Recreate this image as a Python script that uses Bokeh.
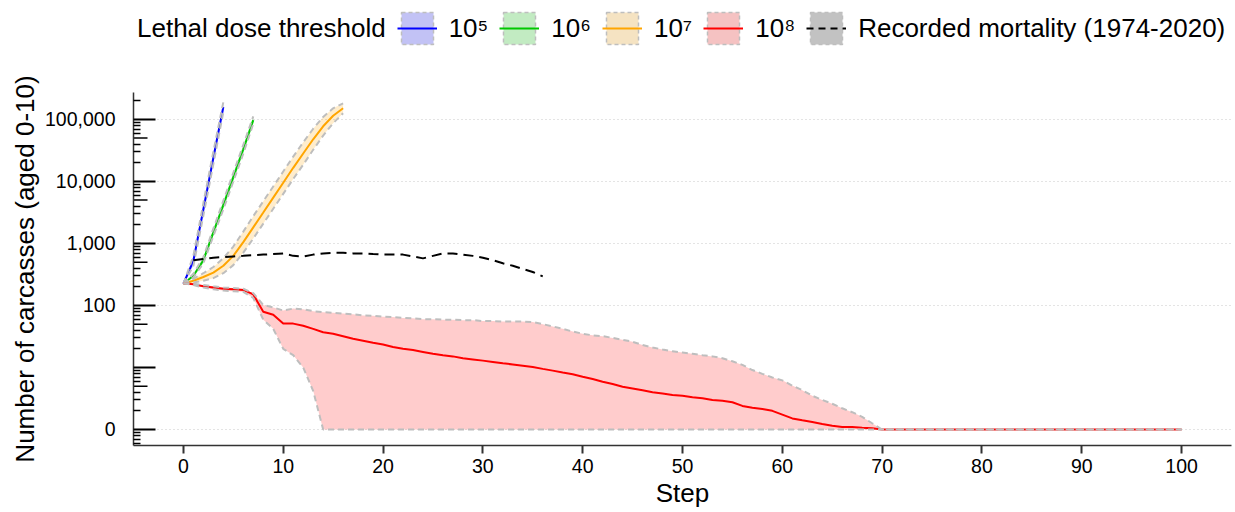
from bokeh.plotting import figure
from bokeh.layouts import column
from bokeh.models import Range1d, FixedTicker, Legend, LegendItem, ColumnDataSource
from bokeh.embed import file_html
from bokeh.resources import INLINE

FONT = "Liberation Sans"

# ---- simulated carcasses (aged 0-10) per step: median and 95% interval ----
# lethal dose threshold 10^5
steps_1e5 = [0, 1, 2, 3, 4]
med_1e5 = [223, 524, 3548, 23990, 158500]
lo_1e5 = [223, 436, 2818, 19055, 131864]
hi_1e5 = [223, 630, 4467, 30204, 190517]

# lethal dose threshold 10^6
steps_1e6 = [0, 1, 2, 3, 4, 5, 6, 7]
med_1e6 = [223, 301, 536, 1510, 4170, 11750, 33100, 97700]
lo_1e6 = [223, 281, 478, 1316, 3550, 10001, 28171, 85105]
hi_1e6 = [223, 323, 602, 1734, 4901, 13807, 38894, 112160]

# lethal dose threshold 10^7
steps_1e7 = [0, 1, 2, 3, 4, 5, 6, 7, 8, 9, 10, 11, 12, 13, 14, 15, 16]
med_1e7 = [223, 250, 287, 338, 436, 630, 1050, 1820, 3160, 5490, 9550,
           16600, 28200, 47900, 77600, 114800, 151400]
lo_1e7 = [223, 233, 250, 275, 331, 446, 710, 1202, 2087, 3626, 6308,
          10964, 18626, 32386, 54918, 87101, 125957]
hi_1e7 = [223, 268, 330, 416, 575, 891, 1553, 2756, 4785, 8312, 14459,
          25133, 42695, 70845, 109649, 151307, 181983]

# lethal dose threshold 10^8
steps_1e8 = list(range(0, 101))
med_1e8 = [228, 218, 203, 194, 185, 181, 177, 150, 78, 70,
           50, 50, 46, 41, 36, 34, 31, 28, 26, 24,
           22.4, 20.4, 19.0, 18.1, 16.8, 15.6, 14.8, 14.1, 13.1, 12.5,
           11.9, 11.3, 10.7, 10.2, 9.7, 9.2, 8.5, 7.9, 7.3, 6.8,
           6.1, 5.5, 4.9, 4.4, 3.9, 3.6, 3.3, 3.0, 2.8, 2.6,
           2.5, 2.3, 2.2, 2.0, 1.9, 1.75, 1.4, 1.24, 1.14, 1.0,
           0.74, 0.51, 0.41, 0.32, 0.23, 0.15, 0.10, 0.10, 0.07, 0.05,
           0, 0, 0, 0, 0, 0, 0, 0, 0, 0,
           0, 0, 0, 0, 0, 0, 0, 0, 0, 0,
           0, 0, 0, 0, 0, 0, 0, 0, 0, 0,
           0]
lo_1e8 = [228, 213, 194, 181, 173, 169, 165, 131, 58, 41,
          19, 14.8, 9, 3.2, 0, 0, 0, 0, 0, 0,
          0, 0, 0, 0, 0, 0, 0, 0, 0, 0,
          0, 0, 0, 0, 0, 0, 0, 0, 0, 0,
          0, 0, 0, 0, 0, 0, 0, 0, 0, 0,
          0, 0, 0, 0, 0, 0, 0, 0, 0, 0,
          0, 0, 0, 0, 0, 0, 0, 0, 0, 0,
          0, 0, 0, 0, 0, 0, 0, 0, 0, 0,
          0, 0, 0, 0, 0, 0, 0, 0, 0, 0,
          0, 0, 0, 0, 0, 0, 0, 0, 0, 0,
          0]
hi_1e8 = [228, 223, 213, 203, 194, 190, 185, 157, 101, 92,
          82, 88, 86, 80, 77, 75, 73, 71, 68, 67,
          65, 64, 62, 61, 59, 59, 58, 58, 57, 57,
          55, 55, 54, 54, 54, 53, 49, 45, 41, 37,
          34, 32, 31, 29, 27, 25, 22, 20, 18.5, 17.2,
          16.4, 15.6, 14.8, 14.1, 13.1, 11.6, 10, 8.1, 6.9, 5.9,
          5.2, 4.1, 3.3, 2.5, 2.0, 1.6, 1.2, 0.9, 0.6, 0.26,
          0, 0, 0, 0, 0, 0, 0, 0, 0, 0,
          0, 0, 0, 0, 0, 0, 0, 0, 0, 0,
          0, 0, 0, 0, 0, 0, 0, 0, 0, 0,
          0]

# recorded mortality 1974-2020
steps_rec = list(range(1, 37))
recorded = [536, 561, 588, 602, 616, 630, 645, 660, 675, 691,
            630, 616, 660, 691, 707, 707, 691, 691, 675, 660,
            660, 660, 616, 574, 630, 691, 691, 660, 630, 588,
            536, 478, 436, 388, 346, 294]

legend_title = "Lethal dose threshold"
threshold_labels = ["10⁵", "10⁶", "10⁷", "10⁸"]
recorded_label = "Recorded mortality (1974-2020)"
line_colors = ["#0000FF", "#00C800", "#FFA500", "#FF0000"]
key_fills = ["#C2C2F5", "#C2EBC2", "#F5E3C2", "#F5C2C2"]

x_ticks = [0, 10, 20, 30, 40, 50, 60, 70, 80, 90, 100]
y_labelled = {1: "0", 10: "", 100: "100", 1000: "1,000", 10000: "10,000", 100000: "100,000"}

XSTART, XEND = -5, 105
YSTART, YEND = 0.552, 272000
BAND_EDGE = "#BEBEBE"
KEY_DASH = "4 3"
STRIP_H = 50
TOTAL_W, TOTAL_H = 1235, 512


def shift(values):
    # counts are shown on a log(1 + n) scale, so zero sits at the bottom tick
    return [v + 1 for v in values]


# ---------------- main panel ----------------
p = figure(width=TOTAL_W, height=TOTAL_H - STRIP_H, title=None,
           x_range=Range1d(XSTART, XEND), y_range=Range1d(YSTART, YEND),
           y_axis_type="log", output_backend="svg", toolbar_location=None,
           min_border_left=133, min_border_right=4, min_border_top=42,
           min_border_bottom=67)
p.frame_align = False
p.outline_line_color = None
p.background_fill_color = "white"
p.border_fill_color = "white"

series = [
    (steps_1e5, med_1e5, lo_1e5, hi_1e5),
    (steps_1e6, med_1e6, lo_1e6, hi_1e6),
    (steps_1e7, med_1e7, lo_1e7, hi_1e7),
    (steps_1e8, med_1e8, lo_1e8, hi_1e8),
]

sources = []
for (steps, med, lo, hi), col in zip(series, line_colors):
    src = ColumnDataSource(dict(step=steps, med=shift(med), lo=shift(lo), hi=shift(hi)))
    sources.append(src)
    p.varea(x="step", y1="lo", y2="hi", source=src, fill_color=col, fill_alpha=0.2)
    p.line("step", "med", source=src, line_color=col, line_width=2)
    for edge in ("lo", "hi"):
        p.line("step", edge, source=src, line_color=BAND_EDGE, line_width=2, line_dash="6 4")

rec_src = ColumnDataSource(dict(step=steps_rec, n=shift(recorded)))
p.line("step", "n", source=rec_src, line_color="black", line_width=2, line_dash="10 6")

# ---- axes ----
major_y = sorted(y_labelled)
minor_y = [m * 10 ** k for k in range(-1, 6) for m in (2, 3, 4, 6, 7, 8, 9)
           if YSTART <= m * 10 ** k <= YEND]
mid_y = [5 * 10 ** k for k in range(-1, 6) if YSTART <= 5 * 10 ** k <= YEND]

yax = p.yaxis[0]
yax.ticker = FixedTicker(ticks=major_y, minor_ticks=minor_y)
yax.major_label_overrides = y_labelled
yax.major_tick_in = 22
yax.major_tick_out = 0
yax.minor_tick_in = 7
yax.minor_tick_out = 0
yax.major_tick_line_width = 2
yax.minor_tick_line_width = 1.5
yax.major_tick_line_color = "black"
yax.minor_tick_line_color = "black"
yax.axis_line_color = "#333333"
yax.axis_line_width = 1.5
yax.major_label_standoff = 18
yax.major_label_text_font = FONT
yax.major_label_text_font_size = "19.5px"
yax.major_label_text_color = "black"
yax.axis_label = "Number of carcasses (aged 0-10)"
yax.axis_label_text_font = FONT
yax.axis_label_text_font_size = "26px"
yax.axis_label_text_font_style = "normal"
yax.axis_label_text_color = "black"
yax.axis_label_standoff = 2

# mid-decade ticks, a little shorter than the decade ticks
p.ray(x=[XSTART] * len(mid_y), y=mid_y, length=14, length_units="screen", angle=0,
      line_color="black", line_width=1.5)

xax = p.xaxis[0]
xax.ticker = FixedTicker(ticks=x_ticks)
xax.minor_tick_line_color = None
xax.major_tick_in = 0
xax.major_tick_out = 8
xax.major_tick_line_width = 2
xax.major_tick_line_color = "#333333"
xax.axis_line_color = "#333333"
xax.axis_line_width = 1.5
xax.major_label_standoff = 5
xax.major_label_text_font = FONT
xax.major_label_text_font_size = "19.5px"
xax.major_label_text_color = "black"
xax.axis_label = "Step"
xax.axis_label_text_font = FONT
xax.axis_label_text_font_size = "26px"
xax.axis_label_text_font_style = "normal"
xax.axis_label_text_color = "black"
xax.axis_label_standoff = 2

p.xgrid.visible = False
p.ygrid.ticker = FixedTicker(ticks=[1, 100, 1000, 10000, 100000])
p.ygrid.grid_line_color = "#C8C8C8"
p.ygrid.grid_line_dash = "1 3"
p.ygrid.grid_line_width = 1

# ---------------- legend strip ----------------
# The key glyphs reuse the series sources; this strip's ranges lie away from
# the data, so only the legend itself is drawn here.
leg = figure(width=TOTAL_W, height=STRIP_H, title=None,
             x_range=Range1d(-3, -2), y_range=Range1d(-3, -2),
             output_backend="svg", toolbar_location=None,
             x_axis_location=None, y_axis_location=None,
             min_border=0, min_border_left=0, min_border_right=0,
             min_border_top=0, min_border_bottom=0)
leg.frame_align = False
leg.outline_line_color = None
leg.xgrid.visible = False
leg.ygrid.visible = False
leg.background_fill_color = "white"
leg.border_fill_color = "white"

items = []
title_r = leg.line("step", "n", source=rec_src, line_alpha=0)
items.append(LegendItem(label=legend_title, renderers=[title_r]))

for src, col, kf, lab in zip(sources, line_colors, key_fills, threshold_labels):
    box = leg.quad(left="step", right="step", bottom="lo", top="hi", source=src,
                   fill_color=kf, line_color=BAND_EDGE, line_width=1.5, line_dash=KEY_DASH)
    ln = leg.line("step", "med", source=src, line_color=col, line_width=2)
    items.append(LegendItem(label=lab, renderers=[box, ln]))

rec_box = leg.quad(left="step", right="step", bottom="n", top="n", source=rec_src,
                   fill_color="#C2C2C2", line_color=BAND_EDGE, line_width=1.5, line_dash=KEY_DASH)
rec_ln = leg.line("step", "n", source=rec_src, line_color="black", line_width=2, line_dash="7 5")
items.append(LegendItem(label=recorded_label, renderers=[rec_box, rec_ln]))

legend = Legend(items=items, location=(85, 2), orientation="horizontal",
                glyph_width=40, glyph_height=40, label_standoff=12, spacing=11,
                padding=0, margin=0, border_line_color=None, background_fill_alpha=0,
                label_text_font=FONT, label_text_font_size="26px",
                label_text_color="black")
leg.add_layout(legend)

layout = column(leg, p, spacing=0)
open("out.html", "w").write(file_html(layout, INLINE))
